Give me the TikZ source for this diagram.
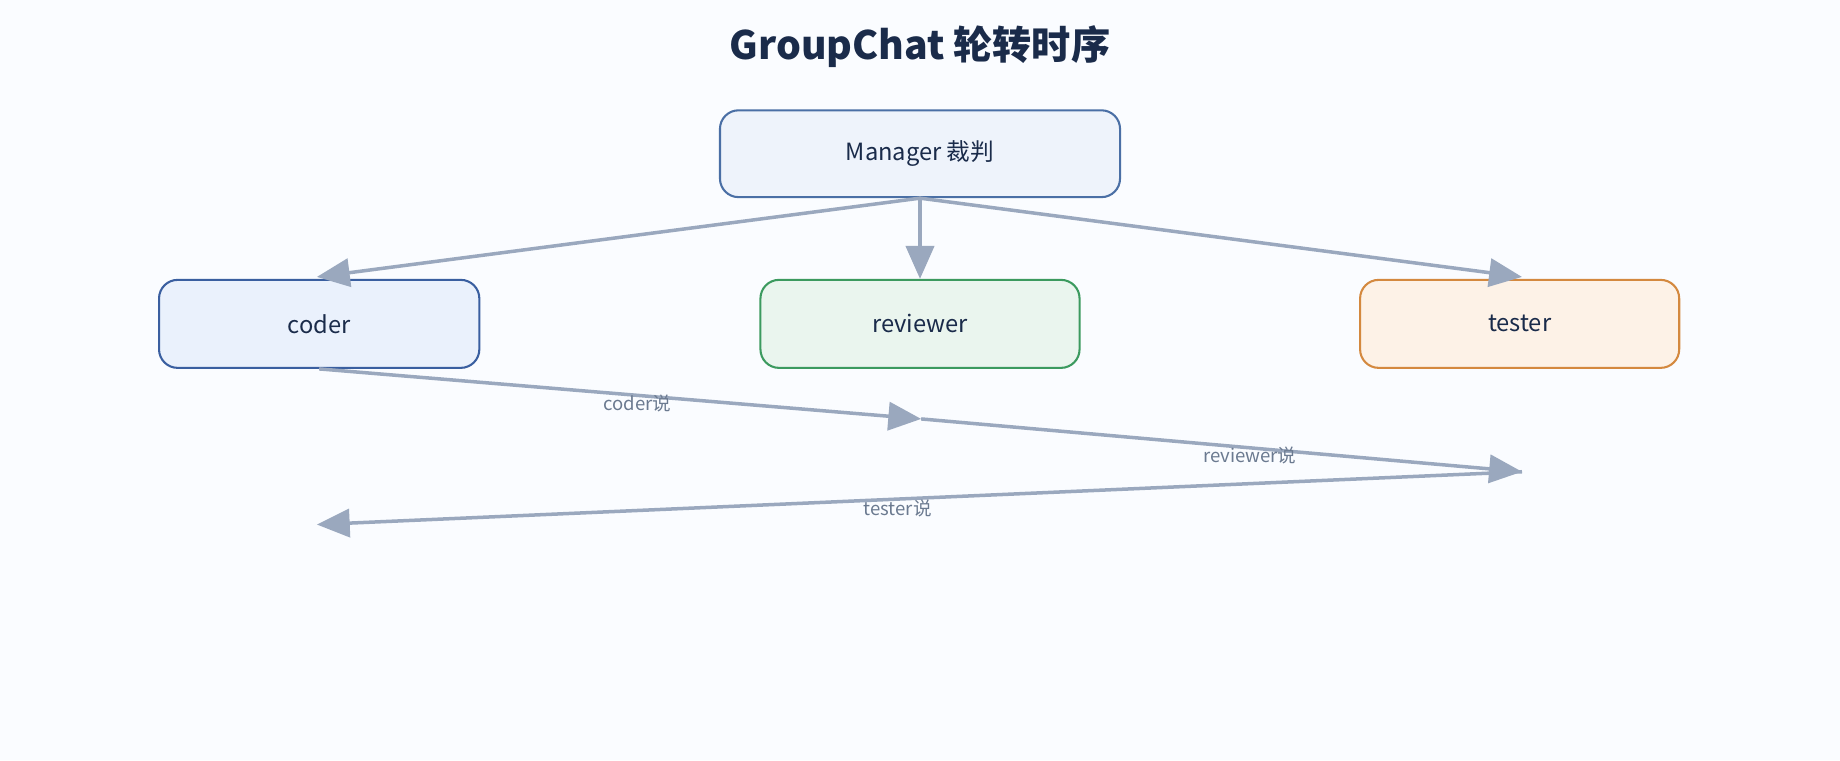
\documentclass[tikz,border=0pt]{standalone}
\usepackage{fontspec}
\setmainfont{Noto Sans CJK SC}
\usetikzlibrary{positioning,arrows.meta}
\definecolor{bgc}{HTML}{FAFCFF}
\definecolor{titlec}{HTML}{1A2B4A}
\definecolor{linec}{HTML}{9AA8BE}
\definecolor{labc}{HTML}{6B7A90}
\definecolor{mgrfill}{HTML}{EEF3FB}
\definecolor{mgrdraw}{HTML}{4A6FA5}
\definecolor{coderfill}{HTML}{EAF1FC}
\definecolor{coderdraw}{HTML}{3A5FA0}
\definecolor{revfill}{HTML}{EAF5EE}
\definecolor{revdraw}{HTML}{3C9A5F}
\definecolor{tstfill}{HTML}{FDF2E7}
\definecolor{tstdraw}{HTML}{D4893F}
\begin{document}
\begin{tikzpicture}[x=0.02cm,y=-0.02cm]
        \tikzstyle{box}=[draw, rounded corners=9pt, line width=1pt, text=titlec, font=\fontsize{11.5}{13}\selectfont]
        \tikzstyle{flow}=[draw=linec, line width=1.7pt, -{Triangle[length=0.56cm,width=0.48cm]}]
        \tikzstyle{say}=[text=labc, font=\fontsize{9}{10}\selectfont, inner sep=1pt]

        \fill[bgc] (0,0) rectangle (1568,648);
        \useasboundingbox (0,0) rectangle (1568,648);

        \node (title) at (784,40) [text=titlec, font=\bfseries\fontsize{19}{22}\selectfont] {GroupChat 轮转时序};

        \node (mgr) [box, minimum width=6.82cm, minimum height=1.48cm, fill=mgrfill, draw=mgrdraw] at (784,131) {Manager 裁判};
        \node (coder) [box, minimum width=5.46cm, minimum height=1.5cm, fill=coderfill, draw=coderdraw] at (272,276) {coder};
        \node (rev) [box, minimum width=5.44cm, minimum height=1.5cm, fill=revfill, draw=revdraw] at (784,276) {reviewer};
        \node (tst) [box, minimum width=5.44cm, minimum height=1.5cm, fill=tstfill, draw=tstdraw] at (1295,276) {tester};

        \coordinate (m1) at (785,357);
        \coordinate (m2) at (1297,402);
        \coordinate (m3) at (270,447);
        \coordinate (c1) at (270,236);
        \coordinate (t1) at (1297,236);

        \draw[flow] (mgr.south) -- (c1);
        \draw[flow] (mgr.south) -- (rev.north);
        \draw[flow] (mgr.south) -- (t1);

        \draw[flow] (coder.south) -- (m1);
        \draw[flow] (m1) -- (m2);
        \draw[flow] (m2) -- (m3);

        \node[say] at (543,344) {coder说};
        \node[say] at (1065,388) {reviewer说};
        \node[say] at (765,433) {tester说};
    \end{tikzpicture}
\end{document}
